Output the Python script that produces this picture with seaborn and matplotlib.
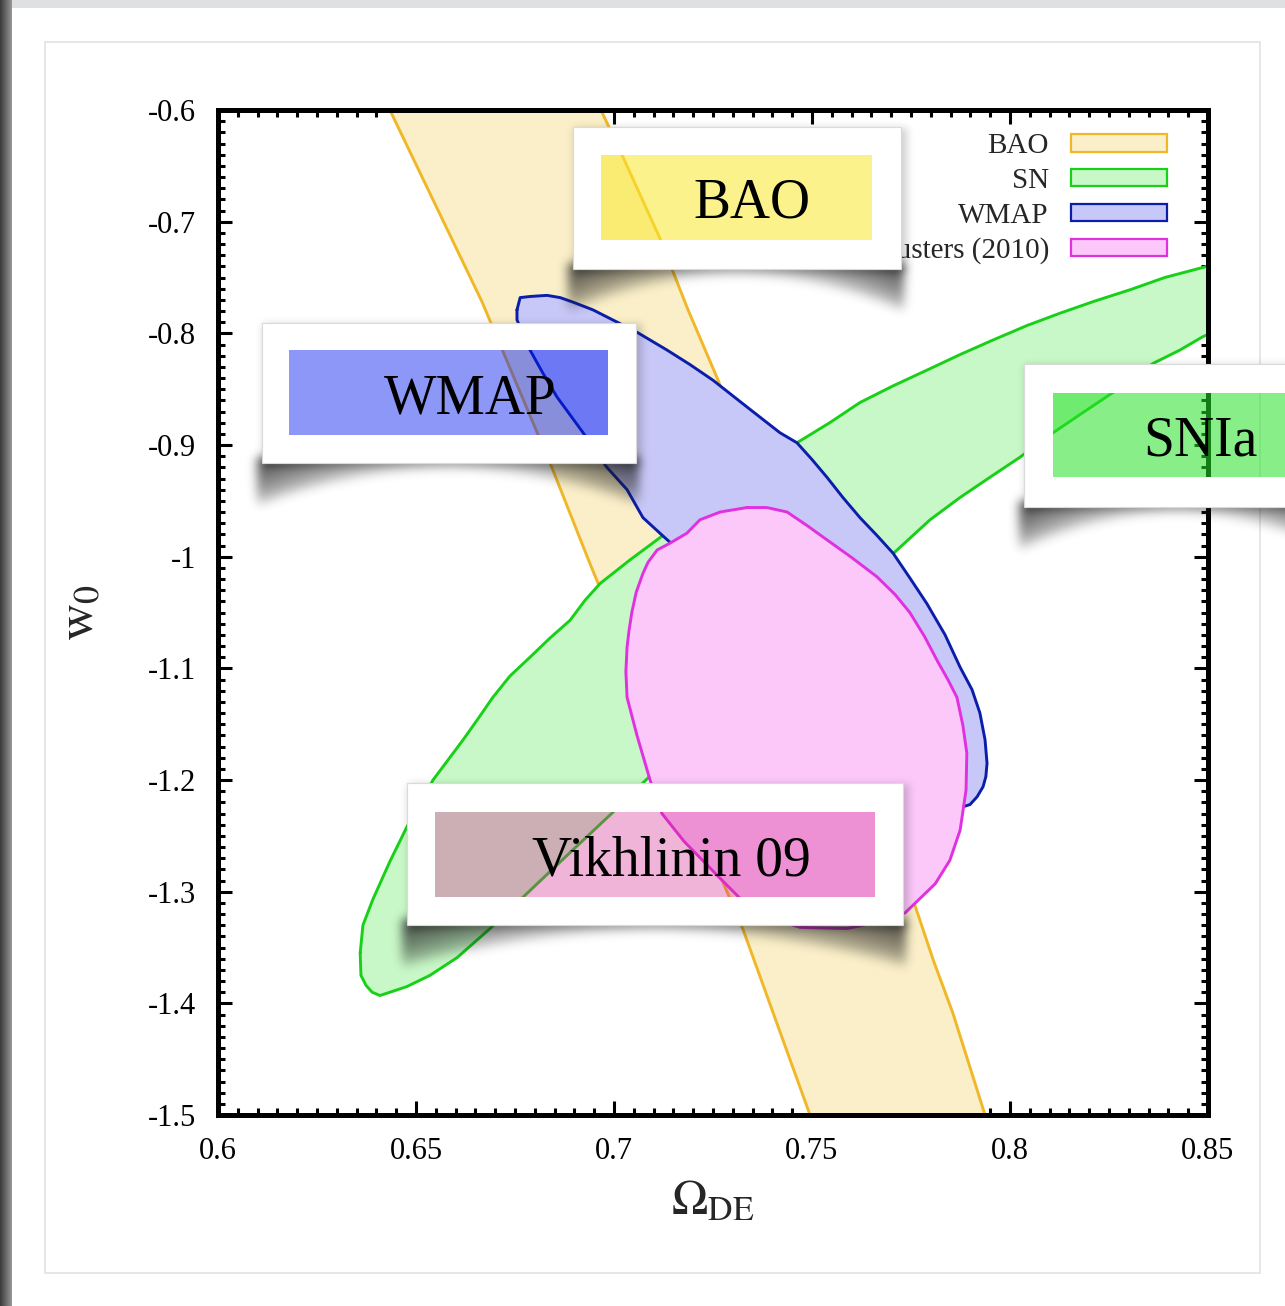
import numpy as np
import matplotlib
matplotlib.use("Agg")
import matplotlib.pyplot as plt
import seaborn as sns
from matplotlib.patches import Rectangle, PathPatch, Patch
from matplotlib.path import Path
from matplotlib.ticker import MultipleLocator

# ---------------------------------------------------------------- data
# BAO band: left and right boundaries (Omega_DE, w0)
bao_left_x = [0.6434, 0.6667, 0.6843, 0.6939, 0.7129, 0.7326, 0.7495]
bao_left_y = [-0.600, -0.772, -0.920, -1.006, -1.169, -1.334, -1.500]
bao_right_x = [0.6967, 0.7020, 0.7116, 0.7187, 0.7263, 0.7508, 0.7755, 0.7806, 0.7856, 0.7937]
bao_right_y = [-0.600, -0.640, -0.715, -0.779, -0.842, -1.075, -1.307, -1.361, -1.409, -1.500]

# SN contour
sn_x = [0.6359, 0.6366, 0.6391, 0.6434, 0.6477, 0.6510, 0.6543, 0.6581, 0.6619, 0.6657,
        0.6694, 0.6737, 0.6788, 0.6838, 0.6889, 0.6927, 0.6965, 0.7040, 0.7116, 0.7288,
        0.7462, 0.7545, 0.7621, 0.7705, 0.7790, 0.7874, 0.7957, 0.8043, 0.8126, 0.8215,
        0.8303, 0.8391, 0.8487, 0.8581, 0.8606, 0.8556, 0.8487, 0.8429, 0.8361, 0.8311,
        0.8260, 0.8184, 0.8109, 0.8025, 0.7949, 0.7874, 0.7798, 0.7715, 0.7407, 0.7098,
        0.6997, 0.6889, 0.6770, 0.6687, 0.6604, 0.6535, 0.6477, 0.6409, 0.6389, 0.6374,
        0.6361]
sn_y = [-1.355, -1.330, -1.307, -1.273, -1.242, -1.221, -1.200, -1.182, -1.164, -1.145,
        -1.126, -1.107, -1.090, -1.073, -1.057, -1.039, -1.024, -1.003, -0.983, -0.940,
        -0.898, -0.880, -0.862, -0.847, -0.833, -0.819, -0.806, -0.793, -0.782, -0.771,
        -0.761, -0.750, -0.741, -0.733, -0.770, -0.793, -0.803, -0.815, -0.827, -0.840,
        -0.853, -0.871, -0.889, -0.911, -0.929, -0.947, -0.967, -0.994, -1.093, -1.194,
        -1.229, -1.265, -1.305, -1.333, -1.359, -1.375, -1.385, -1.393, -1.390, -1.384,
        -1.375]

# WMAP contour
wmap_x = [0.6755, 0.6763, 0.6788, 0.6831, 0.6864, 0.6896, 0.6947, 0.6997, 0.7058, 0.7134,
          0.7192, 0.7250, 0.7336, 0.7419, 0.7462, 0.7500, 0.7538, 0.7578, 0.7621, 0.7664,
          0.7705, 0.7747, 0.7790, 0.7836, 0.7874, 0.7904, 0.7924, 0.7937, 0.7942, 0.7939,
          0.7932, 0.7917, 0.7899, 0.7881, 0.7798, 0.7596, 0.7343, 0.7141, 0.7116, 0.7073,
          0.7033, 0.6982, 0.6952, 0.6922, 0.6889, 0.6856, 0.6821, 0.6788, 0.6755]
wmap_y = [-0.779, -0.768, -0.767, -0.766, -0.768, -0.772, -0.779, -0.788, -0.799, -0.815,
          -0.828, -0.842, -0.866, -0.889, -0.898, -0.913, -0.929, -0.947, -0.965, -0.981,
          -0.997, -1.019, -1.042, -1.070, -1.099, -1.119, -1.140, -1.164, -1.185, -1.197,
          -1.206, -1.215, -1.222, -1.224, -1.209, -1.155, -1.075, -0.987, -0.979, -0.965,
          -0.940, -0.920, -0.905, -0.889, -0.873, -0.857, -0.836, -0.815, -0.788]

# Clusters (2010) contour
cl_x = [0.7336, 0.7386, 0.7437, 0.7487, 0.7538, 0.7601, 0.7664, 0.7710, 0.7747, 0.7785,
        0.7816, 0.7843, 0.7866, 0.7881, 0.7891, 0.7889, 0.7874, 0.7848, 0.7811, 0.7735,
        0.7672, 0.7588, 0.7470, 0.7407, 0.7338, 0.7265, 0.7177, 0.7121, 0.7091, 0.7058,
        0.7033, 0.7030, 0.7033, 0.7038, 0.7045, 0.7056, 0.7073, 0.7086, 0.7109, 0.7141,
        0.7184, 0.7217, 0.7268]
cl_y = [-0.956, -0.956, -0.960, -0.972, -0.985, -1.001, -1.018, -1.034, -1.050, -1.072,
        -1.093, -1.110, -1.126, -1.151, -1.176, -1.209, -1.245, -1.272, -1.293, -1.319,
        -1.327, -1.333, -1.332, -1.325, -1.313, -1.287, -1.255, -1.230, -1.200, -1.160,
        -1.126, -1.103, -1.081, -1.066, -1.050, -1.032, -1.015, -1.005, -0.994, -0.988,
        -0.979, -0.967, -0.960]

legend_labels = ["BAO", "SN", "WMAP", "Clusters (2010)"]
fill_colors = ["#faefc8", "#c8f8c8", "#c8c8f8", "#fcc8fa"]
edge_colors = ["#f0b828", "#18d018", "#0a1eaa", "#e030e0"]

x_ticks = [0.6, 0.65, 0.7, 0.75, 0.8, 0.85]
x_tick_labels = ["0.6", "0.65", "0.7", "0.75", "0.8", "0.85"]
y_ticks = [-1.5, -1.4, -1.3, -1.2, -1.1, -1.0, -0.9, -0.8, -0.7, -0.6]
y_tick_labels = ["-1.5", "-1.4", "-1.3", "-1.2", "-1.1", "-1", "-0.9", "-0.8", "-0.7", "-0.6"]

card_texts = ["BAO", "WMAP", "SNIa", "Vikhlinin 09"]

# ---------------------------------------------------------------- style
sns.set_theme(style="ticks")
plt.rcParams["font.family"] = ["Liberation Serif", "DejaVu Serif"]
plt.rcParams["mathtext.fontset"] = "stix"

W, H = 1285, 1306
fig = plt.figure(figsize=(W / 100, H / 100), dpi=100, facecolor="white")

# page background
bg = fig.add_axes([0, 0, 1, 1], zorder=-5)
bg.set_xlim(0, W)
bg.set_ylim(H, 0)
bg.axis("off")
grad = np.linspace(0.24, 0.58, 12)[None, :, None] * np.ones((1, 1, 3))
bg.imshow(grad, extent=(0, 12, H, 0), aspect="auto", interpolation="bilinear")
bg.add_patch(Rectangle((12, 0), W - 12, 8, facecolor="#dfe0e1", edgecolor="none"))
bg.add_patch(Rectangle((45, 42), 1215, 1231, facecolor="none", edgecolor="#e2e2e2", lw=1.2))

# ---------------------------------------------------------------- main axes
ax = fig.add_axes([218 / W, 1 - 1115 / H, 990 / W, 1005 / H], zorder=0)
ax.set_facecolor("white")


def outline(x, y, color, z, closed=True):
    xs = list(x) + ([x[0]] if closed else [])
    ys = list(y) + ([y[0]] if closed else [])
    sns.lineplot(x=xs, y=ys, sort=False, estimator=None, color=color, lw=2.1, ax=ax)
    ax.lines[-1].set_zorder(z)
    ax.lines[-1].set_solid_joinstyle("round")


# BAO band
bx = bao_left_x + bao_right_x[::-1]
by = bao_left_y + bao_right_y[::-1]
ax.fill(bx, by, facecolor=fill_colors[0], edgecolor="none", zorder=1)
outline(bao_left_x, bao_left_y, edge_colors[0], 1.5, closed=False)
outline(bao_right_x, bao_right_y, edge_colors[0], 1.5, closed=False)

# SN, WMAP, clusters
for (xx, yy), fc, ec, z in zip([(sn_x, sn_y), (wmap_x, wmap_y), (cl_x, cl_y)],
                               fill_colors[1:], edge_colors[1:], [2, 3, 4]):
    ax.fill(xx, yy, facecolor=fc, edgecolor="none", zorder=z)
    outline(xx, yy, ec, z + 0.5)

ax.set_xlim(0.6, 0.85)
ax.set_ylim(-1.5, -0.6)
ax.set_xticks(x_ticks, x_tick_labels)
ax.set_yticks(y_ticks, y_tick_labels)
ax.xaxis.set_minor_locator(MultipleLocator(0.005))
ax.yaxis.set_minor_locator(MultipleLocator(0.01))
ax.tick_params(which="both", direction="in", top=True, right=True, color="black",
               width=2.2, labelcolor="black")
ax.tick_params(which="major", length=10, labelsize=22, pad=16)
ax.tick_params(which="minor", length=5)
for s in ax.spines.values():
    s.set_linewidth(3.6)
    s.set_color("black")
    s.set_zorder(10)

ax.set_xlabel(r"$\Omega_{\mathrm{DE}}$", fontsize=35, labelpad=10)
ax.set_ylabel(r"$\mathrm{w}_0$", fontsize=37, labelpad=31)

handles = [Patch(facecolor=fc, edgecolor=ec, lw=1.6) for fc, ec in zip(fill_colors, edge_colors)]
ax.legend(handles, legend_labels, loc="upper right", bbox_to_anchor=(0.9586, 0.977),
          frameon=False, markerfirst=False, handlelength=3.3, handleheight=0.55,
          handletextpad=0.75, labelspacing=0.3, borderpad=0, borderaxespad=0, fontsize=21)

# ---------------------------------------------------------------- label cards
ov = fig.add_axes([0, 0, 1, 1], zorder=5)
ov.set_xlim(0, W)
ov.set_ylim(H, 0)
ov.axis("off")
ov.patch.set_alpha(0)


def blur(a, s):
    r = int(3 * s)
    k = np.exp(-0.5 * (np.arange(-r, r + 1) / s) ** 2)
    k /= k.sum()
    a = np.apply_along_axis(lambda m: np.convolve(m, k, mode="same"), 0, a)
    a = np.apply_along_axis(lambda m: np.convolve(m, k, mode="same"), 1, a)
    return a


def card_shadow(outer, inner, dmid=7.0, dcorner=42.0, strength=0.72):
    x0, y0, x1, y1 = outer
    i0, j0, i1, j1 = inner
    pad = 50
    xs = np.arange(x0 - pad, x1 + pad) + 0.5
    ys = np.arange(y0 - pad, y1 + pad) + 0.5
    X, Y = np.meshgrid(xs, ys)
    u = np.clip((X - x0) / (x1 - x0), 0, 1)
    d = dmid + (dcorner - dmid) * (2 * u - 1) ** 2
    v = Y - y1
    inside = (X >= x0 - 5) & (X <= x1 + 3) & (v > -6) & (v < d)
    fade = np.clip(1 - np.clip(v, 0, None) / d, 0, 1) ** 0.5
    a = np.where(inside, fade, 0.0) * (0.3 + 0.7 * np.abs(2 * u - 1) ** 1.3)
    a = blur(a, 5) * strength
    halo = ((X >= x0 + 1) & (X <= x1 + 6) & (Y >= y0 + 1) & (Y <= y1 + 4)).astype(float)
    a = np.clip(a + blur(halo, 4) * 0.2, 0, 1)
    a[(X >= i0 - 1) & (X <= i1 + 1) & (Y >= j0 - 1) & (Y <= j1 + 1)] = 0
    rgba = np.zeros(a.shape + (4,))
    rgba[..., :3] = 0.1
    rgba[..., 3] = a
    ov.imshow(rgba, extent=(x0 - pad, x1 + pad, y1 + pad, y0 - pad), origin="upper",
              aspect="auto", interpolation="bilinear", zorder=1)


cards = [
    ((573, 127, 901, 269), (601, 155, 872, 240), (251, 233, 45), 0.55, (752, 218)),
    ((262, 323, 636, 463), (289, 350, 608, 435), (0, 25, 240), 0.45, (470, 413)),
    ((1024, 364, 1330, 507), (1053, 393, 1330, 477), (38, 227, 38), 0.55, (1200, 455)),
    ((407, 783, 903, 925), (435, 812, 875, 897), (211, 40, 143), 0.35, (671, 875)),
]

for (outer, inner, tint, alpha, (tx, ty)), txt in zip(cards, card_texts):
    x0, y0, x1, y1 = outer
    card_shadow(outer, inner)
    i0, j0, i1, j1 = inner
    verts = [(x0, y0), (x1, y0), (x1, y1), (x0, y1), (x0, y0),
             (i0, j0), (i0, j1), (i1, j1), (i1, j0), (i0, j0)]
    codes = [Path.MOVETO, Path.LINETO, Path.LINETO, Path.LINETO, Path.CLOSEPOLY] * 2
    ov.add_patch(PathPatch(Path(verts, codes), facecolor="white", edgecolor="none", zorder=2))
    ov.add_patch(Rectangle((x0, y0), x1 - x0, y1 - y0, facecolor="none",
                           edgecolor="#dadada", lw=0.8, zorder=2.5))
    ov.add_patch(Rectangle((i0, j0), i1 - i0, j1 - j0,
                           facecolor=tuple(c / 255 for c in tint), alpha=alpha,
                           edgecolor="none", zorder=3))
    ov.text(tx, ty, txt, fontsize=40, ha="center", va="baseline", color="black",
            family=["Liberation Serif", "DejaVu Serif"], zorder=4)

fig.savefig("out.png", dpi=100)
